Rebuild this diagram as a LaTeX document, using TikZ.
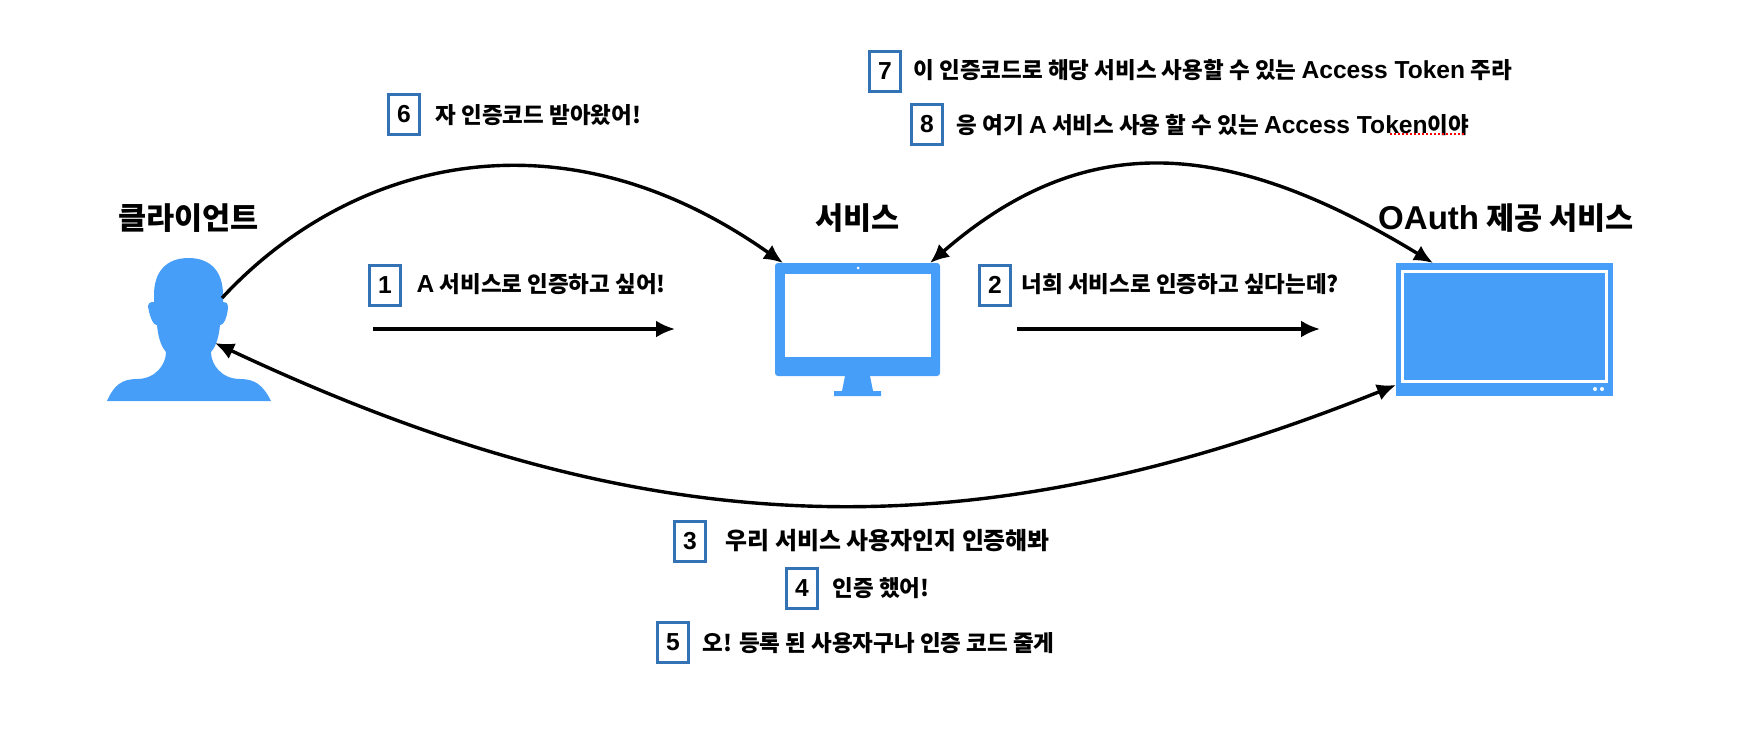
\documentclass[tikz,border=0pt]{standalone}
\usepackage{fontspec}
\setmainfont{Liberation Sans}
\newfontfamily\krfont{Noto Sans CJK KR}
\newfontfamily\enfont{Liberation Sans}
\newcommand{\en}[1]{{\enfont\fontsize{7}{8}\selectfont #1}}
\usetikzlibrary{arrows.meta}
\definecolor{iconblue}{HTML}{479EF8}
\definecolor{boxblue}{HTML}{3373B5}
\tikzset{
	flow/.style={line width=0.034cm, -{Latex[length=0.19cm,width=0.17cm]}},
	bothflow/.style={line width=0.034cm, {Latex[length=0.19cm,width=0.17cm]}-{Latex[length=0.19cm,width=0.17cm]}},
	numbox/.style={draw=boxblue, line width=0.03cm, minimum width=0.31cm, minimum height=0.40cm, inner sep=0pt, font=\enfont\bfseries\fontsize{7}{8}\selectfont},
	saying/.style={anchor=west, inner sep=0pt, font=\krfont\bfseries\fontsize{6.4}{8}\selectfont},
	heading/.style={inner sep=0pt, font=\krfont\bfseries\fontsize{8.7}{10}\selectfont}
}
\begin{document}
\begin{tikzpicture}
	\useasboundingbox (0, 0) rectangle (17.38, -7.30);
	%%%%% client %%%%%
	\fill[iconblue] (1.885, -2.58) .. controls (1.66, -2.58) and (1.54, -2.72) .. (1.54, -2.95)
		-- (1.54, -3.02) .. controls (1.50, -3.02) and (1.48, -3.03) .. (1.48, -3.06)
		.. controls (1.49, -3.13) and (1.52, -3.25) .. (1.57, -3.25)
		.. controls (1.58, -3.35) and (1.60, -3.45) .. (1.66, -3.52)
		.. controls (1.66, -3.65) and (1.55, -3.79) .. (1.37, -3.79)
		.. controls (1.22, -3.79) and (1.14, -3.85) .. (1.07, -4.01)
		-- (2.71, -4.01)
		.. controls (2.63, -3.85) and (2.55, -3.79) .. (2.40, -3.79)
		.. controls (2.22, -3.79) and (2.11, -3.65) .. (2.11, -3.52)
		.. controls (2.17, -3.45) and (2.19, -3.35) .. (2.20, -3.25)
		.. controls (2.25, -3.25) and (2.28, -3.13) .. (2.28, -3.06)
		.. controls (2.28, -3.03) and (2.26, -3.02) .. (2.23, -3.02)
		-- (2.23, -2.95) .. controls (2.23, -2.72) and (2.11, -2.58) .. (1.885, -2.58) -- cycle;
	%%%%% service %%%%%
	\fill[iconblue, rounded corners=0.03cm] (7.75, -2.63) rectangle (9.40, -3.76);
	\fill[white] (7.85, -2.74) rectangle (9.31, -3.57);
	\fill[white] (8.58, -2.68) circle (0.015);
	\fill[iconblue] (8.45, -3.76) -- (8.70, -3.76) -- (8.73, -3.91) -- (8.81, -3.91) -- (8.81, -3.96)
		-- (8.34, -3.96) -- (8.34, -3.91) -- (8.42, -3.91) -- cycle;
	%%%%% oauth %%%%%
	\fill[iconblue] (13.96, -2.63) rectangle (16.13, -3.96);
	\draw[white, line width=0.03cm] (14.025, -2.715) rectangle (16.06, -3.815);
	\fill[white] (15.95, -3.89) circle (0.02);
	\fill[white] (16.02, -3.89) circle (0.02);

	\node[heading] (clientname) at (1.885, -2.18) {클라이언트};
	\node[heading] (servicename) at (8.575, -2.18) {서비스};
	\node[heading] (oauthname) at (15.06, -2.18) {{\enfont\fontsize{9.4}{10}\selectfont OAuth} 제공 서비스};

	\coordinate (clientout) at (2.22, -2.98);
	\coordinate (clientin) at (2.15, -3.43);
	\coordinate (servicein) at (7.83, -2.63);
	\coordinate (serviceout) at (9.30, -2.63);
	\coordinate (oauthtop) at (14.33, -2.63);
	\coordinate (oauthside) at (13.96, -3.85);
	\coordinate (arrowastart) at (3.73, -3.29);
	\coordinate (arrowaend) at (6.75, -3.29);
	\coordinate (arrowbstart) at (10.17, -3.29);
	\coordinate (arrowbend) at (13.20, -3.29);

	\draw[flow] (arrowastart) -- (arrowaend);
	\draw[flow] (arrowbstart) -- (arrowbend);
	\draw[flow] (clientout) .. controls (3.45, -1.65) and (5.55, -1.02) .. (servicein);
	\draw[bothflow] (serviceout) .. controls (10.80, -1.33) and (12.20, -1.33) .. (oauthtop);
	\draw[bothflow] (clientin) .. controls (6.45, -5.45) and (9.67, -5.57) .. (oauthside);

	%%%%% steps %%%%%
	\node[numbox] (stepa) at (3.85, -2.85) {1};
	\node[saying] (sayinga) at (4.16, -2.84) {\en{A} 서비스로 인증하고 싶어!};
	\node[numbox] (stepb) at (9.95, -2.85) {2};
	\node[saying] (sayingb) at (10.21, -2.84) {너희 서비스로 인증하고 싶다는데?};
	\node[numbox] (stepc) at (6.90, -5.41) {3};
	\node[saying, font=\krfont\bfseries\fontsize{6.8}{8}\selectfont] (sayingc) at (7.25, -5.41) {우리 서비스 사용자인지 인증해봐};
	\node[numbox] (stepd) at (8.02, -5.88) {4};
	\node[saying] (sayingd) at (8.32, -5.88) {인증 했어!};
	\node[numbox] (stepe) at (6.73, -6.42) {5};
	\node[saying] (sayinge) at (7.02, -6.43) {오! 등록 된 사용자구나 인증 코드 줄게};
	\node[numbox] (stepf) at (4.04, -1.14) {6};
	\node[saying] (sayingf) at (4.35, -1.15) {자 인증코드 받아왔어!};
	\node[numbox] (stepg) at (8.85, -0.71) {7};
	\node[saying] (sayingg) at (9.13, -0.70) {이 인증코드로 해당 서비스 사용할 수 있는 \en{Access Token} 주라};
	\node[numbox] (steph) at (9.27, -1.24) {8};
	\node[saying] (sayingh) at (9.56, -1.25) {응 여기 \en{A} 서비스 사용 할 수 있는 \en{Access Token}이야};

	\draw[red, line width=0.02cm, dash pattern=on 0.02cm off 0.02cm] (13.90, -1.34) -- (14.66, -1.34);
\end{tikzpicture}
\end{document}
